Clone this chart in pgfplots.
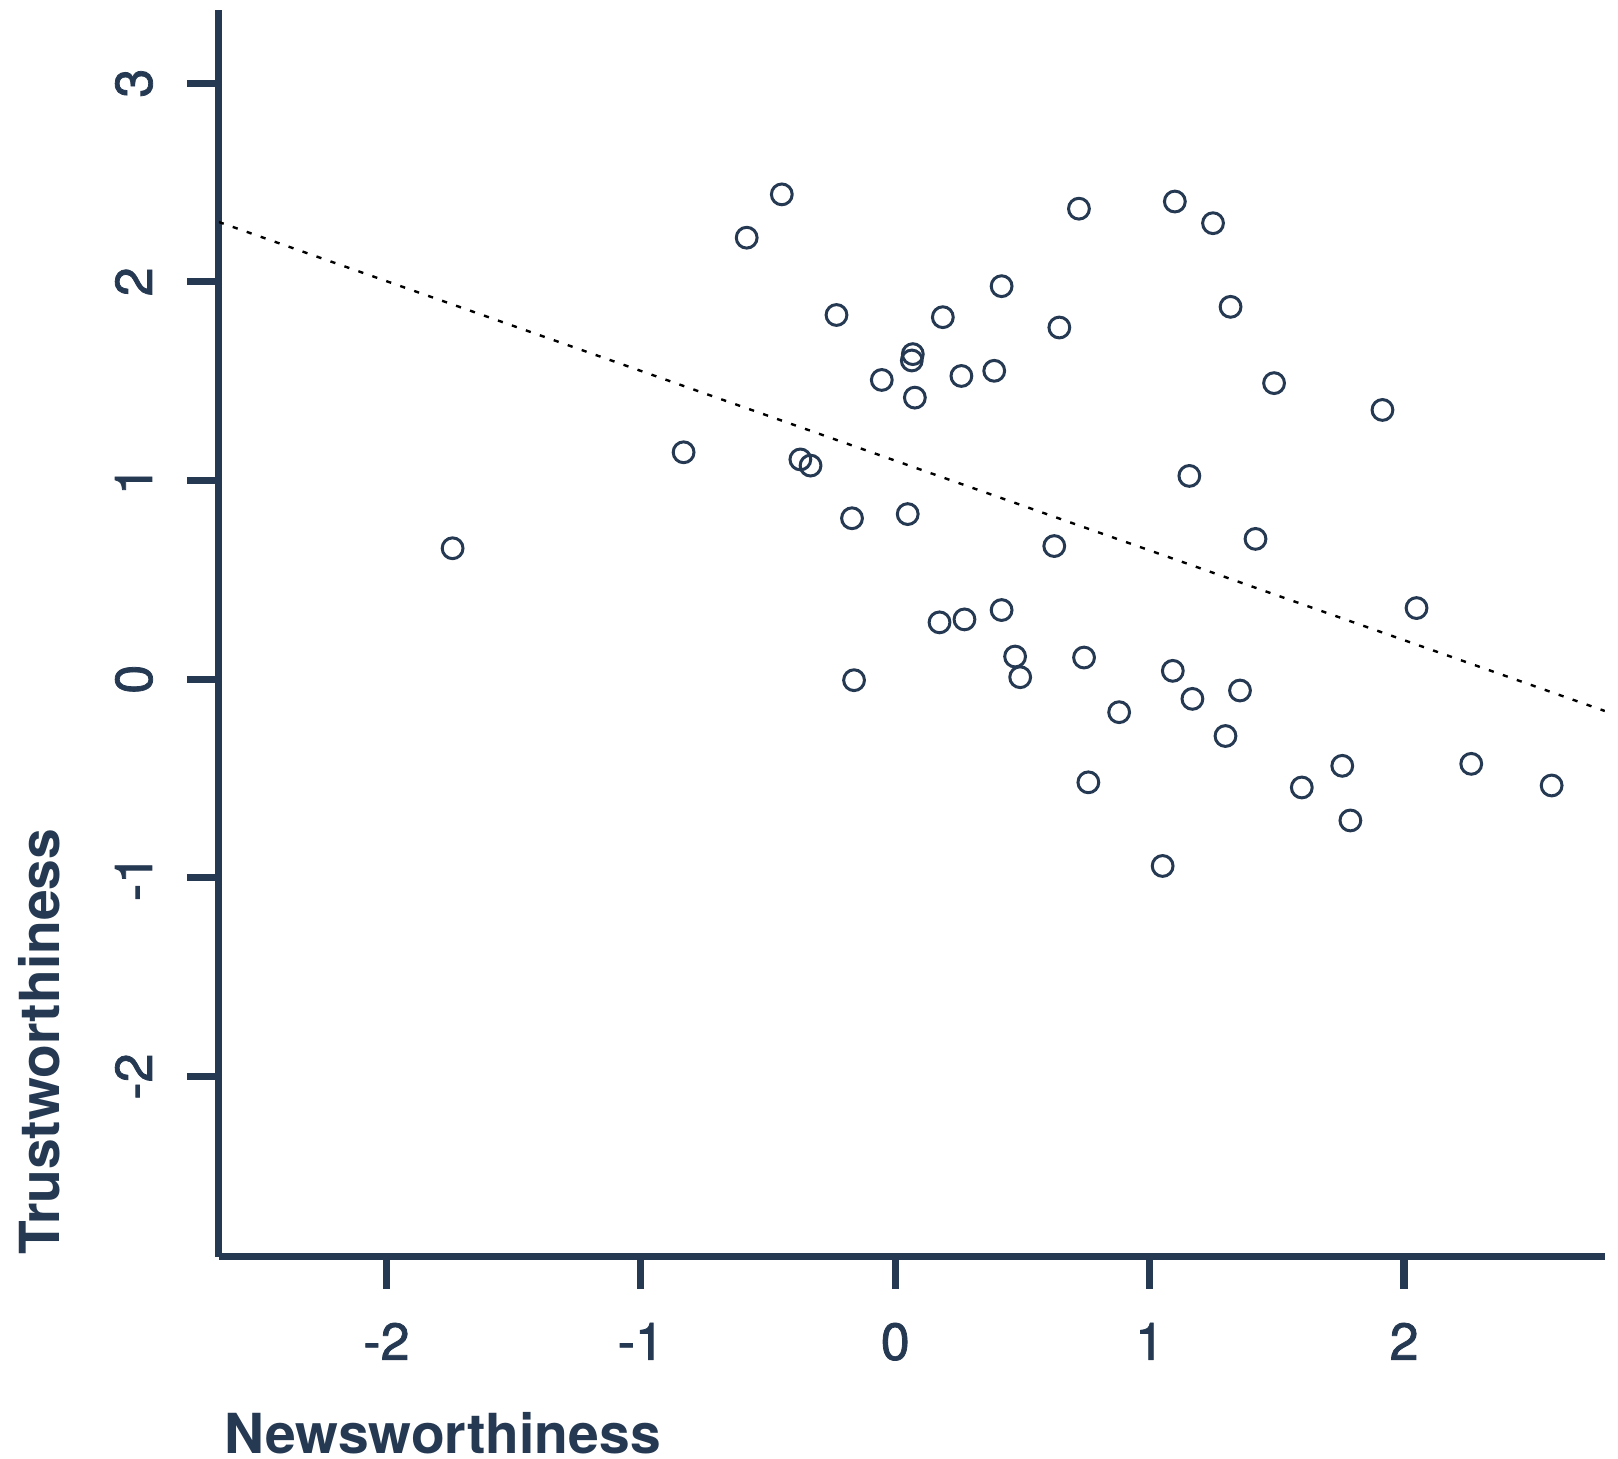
\documentclass[border=0pt]{standalone}
\usepackage{pgfplots}
\pgfplotsset{compat=1.18}
\usepackage{fontspec}
\setmainfont{TeX Gyre Heros}
\newfontfamily\tickfont[FakeBold=1.5]{TeX Gyre Heros}
\definecolor{navy}{HTML}{253A52}
\begin{document}
\begin{tikzpicture}
\begin{axis}[
  name=ax,
  scale only axis,
  width=346.5pt, height=311.6pt,
  xmin=-2.659, xmax=2.789,
  ymin=-2.907, ymax=3.366,
  axis lines=left,
  axis line style={navy, line width=1.8pt, -},
  xtick={-2,-1,0,1,2}, xticklabels={-2,-1,0,1,2},
  ytick={-2,-1,0,1,2,3}, yticklabels={-2,-1,0,1,2,3},
  tick align=outside,
  major tick length=8pt,
  tick style={navy, line width=1.8pt},
  ticklabel style={text=navy, font=\tickfont\fontsize{13}{15}\selectfont},
  xticklabel style={anchor=base, yshift=-17.75pt},
  yticklabel style={xshift=-8.7pt, rotate=90, anchor=base},
  xlabel={Newsworthiness},
  ylabel={Trustworthiness},
  label style={text=navy, inner sep=0pt, font=\fontsize{13.8}{16}\selectfont\bfseries},
  xlabel style={at={([xshift=1.2pt,yshift=-49.1pt]rel axis cs:0,0)}, anchor=base west},
  ylabel style={at={([xshift=-39.7pt,yshift=0.3pt]rel axis cs:0,0)}, anchor=base west},
]
\addplot[only marks, mark=o, mark size=2.6pt, mark options={navy, line width=0.75pt}] coordinates {
(-1.740,0.659) (-0.832,1.142) (-0.584,2.222) (-0.446,2.440) (-0.373,1.106)
(-0.333,1.075) (-0.231,1.833) (-0.170,0.810) (-0.162,-0.005) (-0.053,1.506)
(0.049,0.831) (0.069,1.636) (0.065,1.604) (0.077,1.417) (0.174,0.286)
(0.187,1.822) (0.260,1.526) (0.272,0.301) (0.389,1.552) (0.418,1.978)
(0.418,0.348) (0.471,0.114) (0.491,0.010) (0.625,0.670) (0.645,1.770)
(0.722,2.368) (0.742,0.109) (0.759,-0.519) (0.880,-0.166) (1.051,-0.940)
(1.091,0.042) (1.099,2.404) (1.156,1.023) (1.168,-0.099) (1.249,2.295)
(1.298,-0.286) (1.318,1.874) (1.355,-0.057) (1.416,0.706) (1.489,1.490)
(1.598,-0.545) (1.757,-0.436) (1.789,-0.711) (1.915,1.355) (2.049,0.358)
(2.264,-0.426) (2.580,-0.535)
};
\addplot[black, line width=0.6pt, dash pattern=on 1.3pt off 2.4pt] coordinates {(-2.659,2.301) (2.789,-0.160)};
\coordinate (bl) at (rel axis cs:0,0);
\coordinate (tr) at (rel axis cs:1,1);
\end{axis}
\pgfresetboundingbox
\path ([shift={(-54.7pt,-50.3pt)}]bl) rectangle ([shift={(3.3pt,2.6pt)}]tr);
\end{tikzpicture}
\end{document}
